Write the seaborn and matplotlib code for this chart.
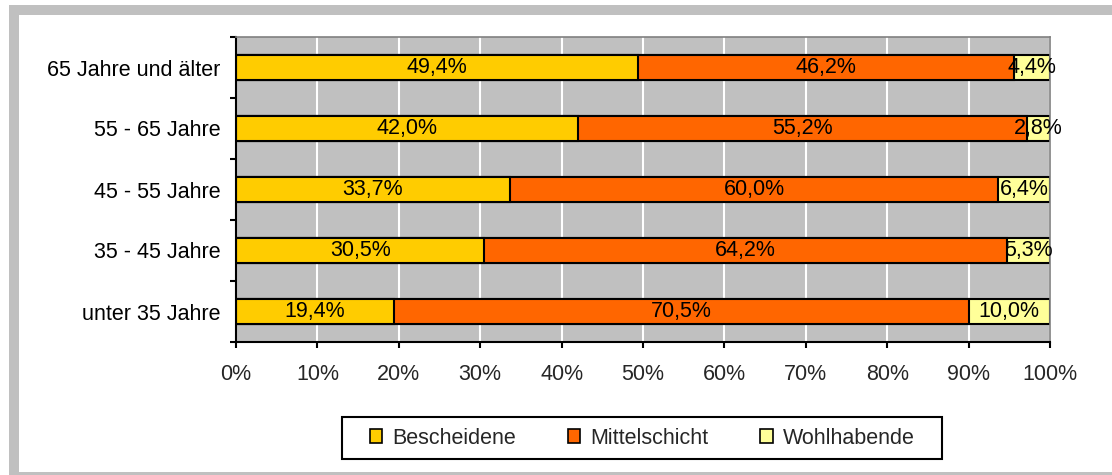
import matplotlib
matplotlib.use("Agg")
import matplotlib.pyplot as plt
import seaborn as sns
import pandas as pd
from matplotlib.patches import Rectangle, Patch
from matplotlib.ticker import FixedLocator, PercentFormatter

# values (top row first)
groups = ["65 Jahre und älter", "55 - 65 Jahre", "45 - 55 Jahre", "35 - 45 Jahre", "unter 35 Jahre"]
bescheidene = [49.4, 42.0, 33.7, 30.5, 19.4]
mittelschicht = [46.2, 55.2, 60.0, 64.2, 70.5]
wohlhabende = [4.4, 2.8, 6.4, 5.3, 10.0]
series = ["Bescheidene", "Mittelschicht", "Wohlhabende"]
colors = ["#FFCC00", "#FF6600", "#FFFF99"]

df = pd.DataFrame({"Gruppe": groups, "Bescheidene": bescheidene,
                   "Mittelschicht": mittelschicht, "Wohlhabende": wohlhabende})
share = df[series].div(df[series].sum(axis=1), axis=0)
cum = share.cumsum(axis=1)

sns.set_style("white")
plt.rcParams["font.family"] = ["Liberation Sans", "DejaVu Sans"]
fs = 15.5

W, H = 1112, 475
fig = plt.figure(figsize=(W / 100, H / 100), dpi=100)

# grey outer frame like the Excel chart area
grey = "#C0C0C0"
fig.add_artist(Rectangle((9 / W, 0), 10 / W, 470 / H, transform=fig.transFigure, color=grey, lw=0))
fig.add_artist(Rectangle((9 / W, 460 / H), 1 - 9 / W, 10 / H, transform=fig.transFigure, color=grey, lw=0))
fig.add_artist(Rectangle((9 / W, 0), 1 - 9 / W, 3 / H, transform=fig.transFigure, color=grey, lw=0))

ax = fig.add_axes([236 / W, 133 / H, 814 / W, 305 / H])
ax.set_facecolor(grey)
ax.set_axisbelow(True)

# stacked bars: draw cumulative totals from the widest down
for name, color in reversed(list(zip(series, colors))):
    sns.barplot(x=cum[name], y=df["Gruppe"], orient="y", color=color, saturation=1,
                width=0.41, edgecolor="black", linewidth=1.5, errorbar=None, ax=ax)

for i in range(len(groups)):
    for name in series:
        mid = cum.loc[i, name] - share.loc[i, name] / 2
        txt = f"{df.loc[i, name]:.1f}".replace(".", ",") + "%"
        ax.text(mid, i, txt, ha="center", va="center", fontsize=fs, color="black")

ax.set_xlim(0, 1)
ax.set_ylim(len(groups) - 0.5, -0.5)
ax.set_xlabel("")
ax.set_ylabel("")
ax.xaxis.set_major_locator(FixedLocator([i / 10 for i in range(11)]))
ax.xaxis.set_major_formatter(PercentFormatter(1.0, decimals=0))
ax.grid(axis="x", color="white", linewidth=1.5)
ax.grid(axis="y", visible=False)

ax.yaxis.set_minor_locator(FixedLocator([i - 0.5 for i in range(len(groups) + 1)]))
ax.tick_params(axis="y", which="major", length=0, pad=11, labelsize=fs, colors="black")
ax.tick_params(axis="y", which="minor", direction="out", length=4.5, width=1.5, color="black", left=True)
ax.tick_params(axis="x", which="major", direction="out", length=4.5, width=1.5, pad=11,
               labelsize=fs, color="black", bottom=True)

for s in ["left", "bottom"]:
    ax.spines[s].set_color("black")
    ax.spines[s].set_linewidth(1.5)
for s in ["top", "right"]:
    ax.spines[s].set_color("#808080")
    ax.spines[s].set_linewidth(1.2)

# legend box drawn separately so its padding matches the original
fig.add_artist(Rectangle((342 / W, 1 - 459 / H), 600 / W, 42 / H, transform=fig.transFigure,
                         facecolor="white", edgecolor="black", lw=1.5))
handles = [Patch(facecolor=c, edgecolor="black", linewidth=1.2) for c in colors]
leg = fig.legend(handles, series, ncol=3, loc="center", bbox_to_anchor=(642 / W, 1 - 438 / H),
                 fontsize=fs, frameon=False,
                 handlelength=0.6, handleheight=0.6, handletextpad=0.45,
                 columnspacing=2.4, borderpad=0.3, borderaxespad=0)

fig.savefig("out.png", dpi=100, facecolor="white")
